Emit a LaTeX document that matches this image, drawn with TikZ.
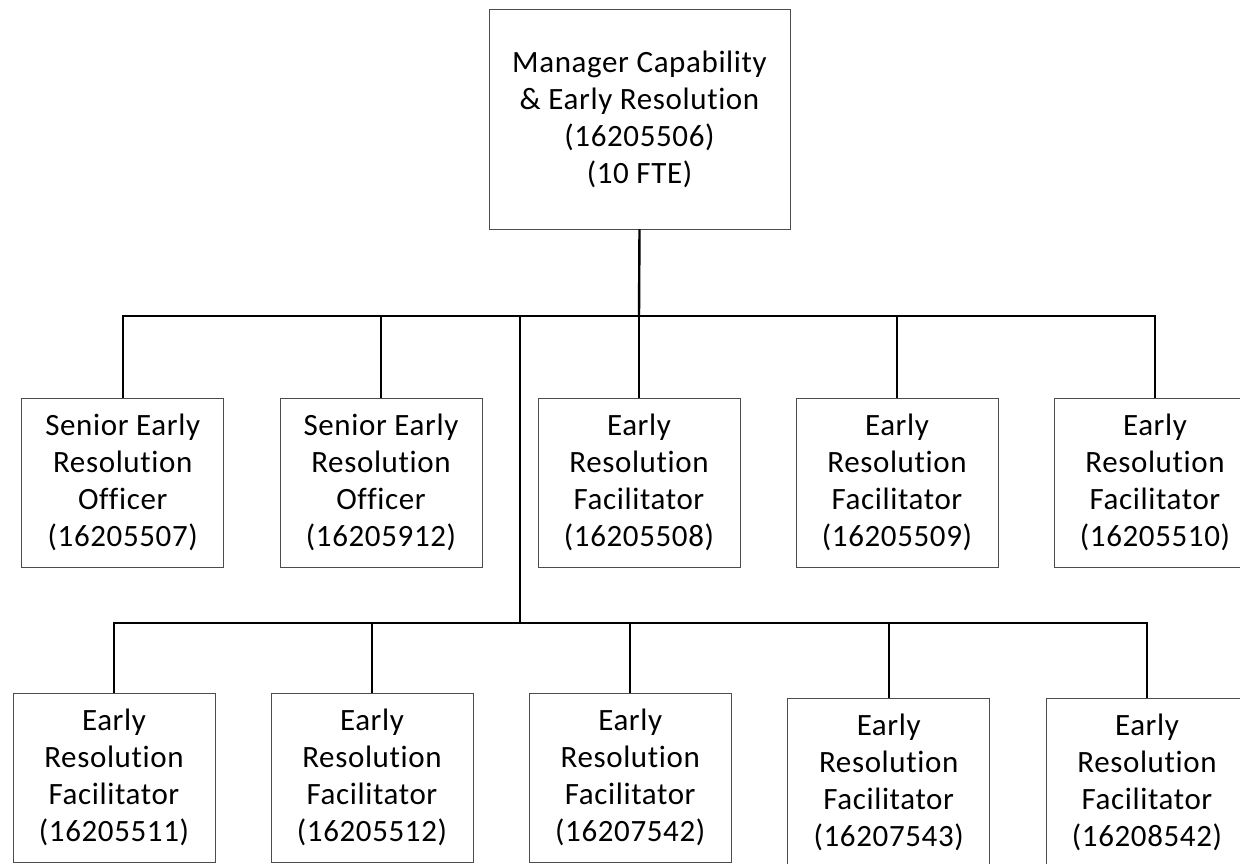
\documentclass[tikz,border=0pt]{standalone}
\usepackage{fontspec}
\setmainfont{Carlito}[Ligatures={NoCommon},LetterSpace=2]
\begin{document}
\begin{tikzpicture}[x=1pt,y=-1pt,
  box/.style={draw=black!70, line width=0.8pt, fill=white, align=center,
    inner sep=0pt, minimum width=202pt, minimum height=169pt,
    font=\fontsize{31}{37}\selectfont},
  conn/.style={line width=2.4pt, draw=black, line join=miter}]
\useasboundingbox (0,0) rectangle (1240,863);
% top
\node[box, minimum width=301pt, minimum height=220pt] (top) at (639.5,119)
  {Manager Capability\\ \& Early Resolution\\ (16205506)\\ (10 FTE)};
% row 1
\node[box] (b1) at (122.75,482.5) {Senior Early\\ Resolution\\ Officer\\ (16205507)};
\node[box] (b2) at (381,482.5) {Senior Early\\ Resolution\\ Officer\\ (16205912)};
\node[box] (b3) at (639,482.5) {Early\\ Resolution\\ Facilitator\\ (16205508)};
\node[box] (b4) at (897,482.5) {Early\\ Resolution\\ Facilitator\\ (16205509)};
\node[box] (b5) at (1155,482.5) {Early\\ Resolution\\ Facilitator\\ (16205510)};
% row 2
\node[box] (b6) at (114,777.5) {Early\\ Resolution\\ Facilitator\\ (16205511)};
\node[box] (b7) at (372,777.5) {Early\\ Resolution\\ Facilitator\\ (16205512)};
\node[box] (b8) at (630.25,777.5) {Early\\ Resolution\\ Facilitator\\ (16207542)};
\node[box] (b9) at (888.7,782.5) {Early\\ Resolution\\ Facilitator\\ (16207543)};
\node[box] (b10) at (1147,782.5) {Early\\ Resolution\\ Facilitator\\ (16208542)};
% connector points
\coordinate (bar1) at (639,316);
\coordinate (tr) at (520,316);
\coordinate (bar2) at (520,623);
% connectors
\draw[conn] (top.south) -- (bar1);
\draw[conn] (b1.north) |- (bar1) -| (b5.north);
\draw[conn] (b2.north) -- (b2.north |- bar1);
\draw[conn] (b3.north) -- (b3.north |- bar1);
\draw[conn] (b4.north) -- (b4.north |- bar1);
\draw[conn] (tr) -- (bar2);
\draw[conn] (b6.north) |- (bar2) -| (b10.north);
\draw[conn] (b7.north) -- (b7.north |- bar2);
\draw[conn] (b8.north) -- (b8.north |- bar2);
\draw[conn] (b9.north) -- (b9.north |- bar2);
\end{tikzpicture}
\end{document}
